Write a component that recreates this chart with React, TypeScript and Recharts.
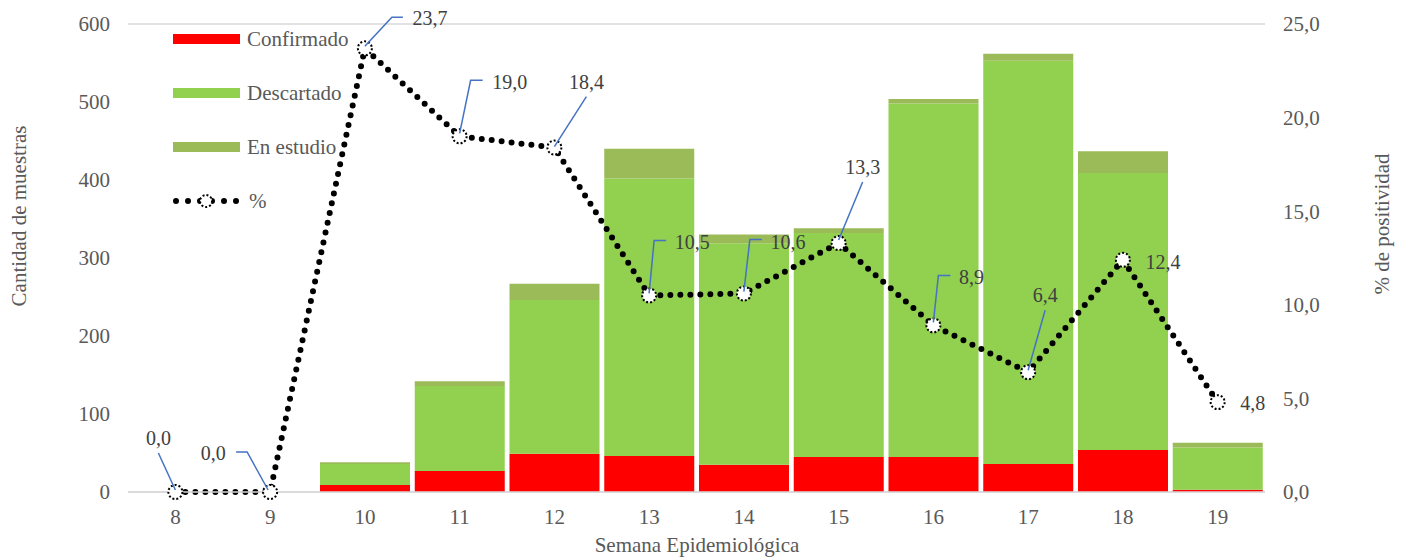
import React from 'react';
import { ComposedChart, Bar, Line, XAxis, YAxis, CartesianGrid, LabelList } from 'recharts';

// Semanas epidemiológicas y valores por serie
const weeks = ['8', '9', '10', '11', '12', '13', '14', '15', '16', '17', '18', '19'];
const confirmado = [0, 0, 9, 27, 49, 46, 35, 45, 45, 36, 54, 3];
const descartado = [0, 0, 27, 109, 197, 356, 284, 287, 453, 517, 355, 54];
const enEstudio = [0, 0, 2, 6, 21, 38, 11, 6, 6, 9, 28, 6];
const positividad = [0, 0, 23.7, 19.0, 18.4, 10.5, 10.6, 13.3, 8.9, 6.4, 12.4, 4.8];

const leftTicks = [0, 100, 200, 300, 400, 500, 600];
const rightTicks = [0, 5, 10, 15, 20, 25];

const data = weeks.map((week, i) => ({
  week,
  confirmado: confirmado[i],
  descartado: descartado[i],
  enEstudio: enEstudio[i],
  pct: positividad[i],
}));

const FONT = '"Liberation Serif", "Times New Roman", serif';
const TEXT = '#595959';

// posición de cada etiqueta respecto a su punto, y su línea guía
const labelLayout: { t: [number, number]; l: [number, number][] }[] = [
  { t: [-17, -54], l: [[-17, -39], [0, -2]] },
  { t: [-57, -39], l: [[-34, -40], [-23, -40], [-2, -2]] },
  { t: [65, -30], l: [[0, -2], [27, -31], [38, -31]] },
  { t: [50, -54], l: [[0, -3], [11, -56], [23, -56]] },
  { t: [32, -66], l: [[0, -1], [32, -51]] },
  { t: [43, -53], l: [[0, -2], [5, -55], [17, -55]] },
  { t: [44, -52], l: [[0, -2], [6, -54], [18, -54]] },
  { t: [24, -76], l: [[0, -3], [24, -61]] },
  { t: [38, -48], l: [[0, -3], [5, -50], [17, -50]] },
  { t: [17, -77], l: [[0, -2], [17, -62]] },
  { t: [40, 2], l: [] },
  { t: [35, 1], l: [] },
];

const fmt = (v: number) => v.toFixed(1).replace('.', ',');

const PctLabel = (props: any) => {
  const { x, y, value, index } = props;
  const lay = labelLayout[index];
  if (!lay) return null;
  const pts = lay.l.map(([dx, dy]) => `${x + dx},${y + dy}`).join(' ');
  return (
    <g>
      {lay.l.length > 0 && <polyline points={pts} fill="none" stroke="#4472C4" strokeWidth={1.5} />}
      <text x={x + lay.t[0]} y={y + lay.t[1]} textAnchor="middle" dominantBaseline="central"
        fontFamily={FONT} fontSize={20} fill="#404040">
        {fmt(Number(value))}
      </text>
    </g>
  );
};

const PctDot = (props: any) => {
  const { cx, cy, index } = props;
  return (
    <circle key={index} cx={cx} cy={cy} r={7} fill="#fff" stroke="#000" strokeWidth={2} strokeDasharray="2 2" />
  );
};

const legendItems = [
  { name: 'Confirmado', color: '#FF0000' },
  { name: 'Descartado', color: '#92D050' },
  { name: 'En estudio', color: '#9BBB59' },
];

export default function App() {
  return (
    <div style={{ position: 'absolute', left: 0, top: 0, width: 1405, height: 559, background: '#fff' }}>
      <ComposedChart width={1405} height={559} data={data} barCategoryGap={2.5}
        margin={{ top: 24, right: 0, bottom: 0, left: 0 }}>
        <CartesianGrid vertical={false} stroke="#d9d9d9" strokeWidth={1.5} />
        <XAxis dataKey="week" height={67} tickSize={0} tickMargin={17} stroke="#d9d9d9" strokeWidth={1.5}
          tick={{ fill: TEXT, fontSize: 21, fontFamily: FONT }}
          label={{ content: () => (
            <text x={697} y={545} textAnchor="middle" dominantBaseline="central" fontFamily={FONT} fontSize={21} fill={TEXT}>
              Semana Epidemiológica
            </text>
          ) }} />
        <YAxis yAxisId="left" width={128} domain={[0, 600]} ticks={leftTicks} axisLine={false} tickLine={false}
          tickSize={0} tickMargin={18} tick={{ fill: TEXT, fontSize: 21, fontFamily: FONT }}
          label={{ content: () => (
            <text x={19} y={216} transform="rotate(-90 19 216)" textAnchor="middle" dominantBaseline="central"
              fontFamily={FONT} fontSize={21} fill={TEXT}>
              Cantidad de muestras
            </text>
          ) }} />
        <YAxis yAxisId="right" orientation="right" width={140} domain={[0, 25]} ticks={rightTicks}
          axisLine={false} tickLine={false} tickSize={0} tickMargin={18} tickFormatter={fmt}
          tick={{ fill: TEXT, fontSize: 21, fontFamily: FONT, textAnchor: 'start' }}
          label={{ content: () => (
            <text x={1382} y={224} transform="rotate(-90 1382 224)" textAnchor="middle" dominantBaseline="central"
              fontFamily={FONT} fontSize={21} fill={TEXT}>
              % de positividad
            </text>
          ) }} />
        <Bar yAxisId="left" dataKey="confirmado" stackId="a" fill="#FF0000" isAnimationActive={false} />
        <Bar yAxisId="left" dataKey="descartado" stackId="a" fill="#92D050" isAnimationActive={false} />
        <Bar yAxisId="left" dataKey="enEstudio" stackId="a" fill="#9BBB59" isAnimationActive={false} />
        <Line yAxisId="right" dataKey="pct" type="linear" stroke="#000" strokeWidth={6}
          strokeDasharray="0 10" strokeLinecap="round" dot={PctDot} activeDot={false} isAnimationActive={false}>
          <LabelList dataKey="pct" content={PctLabel} />
        </Line>
      </ComposedChart>

      {/* Leyenda */}
      <div style={{ position: 'absolute', left: 173, top: 25, fontFamily: FONT, fontSize: 21, color: TEXT }}>
        {legendItems.map((item) => (
          <div key={item.name} style={{ display: 'flex', alignItems: 'center', height: 28, marginBottom: 26 }}>
            <div style={{ width: 67, height: 10, background: item.color, marginRight: 7 }} />
            <span>{item.name}</span>
          </div>
        ))}
        <div style={{ display: 'flex', alignItems: 'center', height: 28 }}>
          <svg width={74} height={20}>
            <line x1={3} y1={10} x2={66} y2={10} stroke="#000" strokeWidth={6} strokeDasharray="0 12"
              strokeLinecap="round" />
            <circle cx={33} cy={10} r={6} fill="#fff" stroke="#000" strokeWidth={2} strokeDasharray="2 2" />
          </svg>
          <span style={{ marginLeft: 2 }}>%</span>
        </div>
      </div>
    </div>
  );
}
